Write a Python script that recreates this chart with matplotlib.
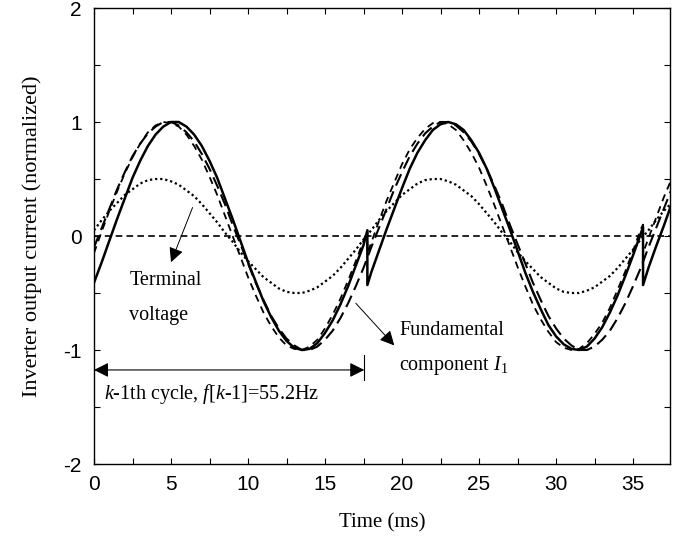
import matplotlib
matplotlib.use('Agg')
import matplotlib.pyplot as plt
from matplotlib.ticker import MultipleLocator

plt.rcParams['mathtext.fontset'] = 'custom'
plt.rcParams['mathtext.rm'] = 'Liberation Serif'
plt.rcParams['mathtext.it'] = 'Liberation Serif:italic'
plt.rcParams['axes.unicode_minus'] = False

# ---- data (time in ms, values normalized) ----
grid_t = [0, 0.5, 1, 1.5, 2, 2.5, 3, 3.5, 4, 4.5, 5, 5.5, 6, 6.5, 7, 7.5, 8, 8.5,
          9, 9.5, 10, 10.5, 11, 11.5, 12, 12.5, 13, 13.5, 14, 14.5, 15, 15.5, 16, 16.5, 17, 17.5,
          18, 18.5, 19, 19.5, 20, 20.5, 21, 21.5, 22, 22.5, 23, 23.5, 24, 24.5, 25, 25.5, 26, 26.5,
          27, 27.5, 28, 28.5, 29, 29.5, 30, 30.5, 31, 31.5, 32, 32.5, 33, 33.5, 34, 34.5, 35, 35.5,
          36, 36.5, 37, 37.5]

# terminal voltage (dotted)
volt_v = [0.05, 0.14, 0.22, 0.29, 0.36, 0.41, 0.46, 0.49, 0.50, 0.50, 0.48, 0.45, 0.40, 0.35,
          0.28, 0.20, 0.12, 0.03, -0.05, -0.14, -0.22, -0.29, -0.36, -0.41, -0.46, -0.49, -0.50,
          -0.50, -0.48, -0.45, -0.40, -0.35, -0.28, -0.20, -0.12, -0.03,
          0.05, 0.14, 0.22, 0.29, 0.36, 0.41, 0.46, 0.49, 0.50, 0.50, 0.48, 0.45, 0.40, 0.35,
          0.28, 0.20, 0.12, 0.03, -0.05, -0.14, -0.22, -0.29, -0.36, -0.41, -0.46, -0.49, -0.50,
          -0.50, -0.48, -0.45, -0.40, -0.35, -0.28, -0.20, -0.12, -0.03,
          0.05, 0.14, 0.22, 0.29]

# fundamental component I1 (long dashed, smooth)
fund_v = [-0.10, 0.07, 0.24, 0.41, 0.56, 0.70, 0.81, 0.90, 0.96, 1.00, 1.00, 0.97, 0.91, 0.83,
          0.72, 0.59, 0.44, 0.28, 0.10, -0.07, -0.24, -0.41, -0.56, -0.70, -0.81, -0.90, -0.96,
          -1.00, -1.00, -0.97, -0.91, -0.83, -0.72, -0.59, -0.44, -0.28,
          -0.10, 0.07, 0.24, 0.41, 0.56, 0.70, 0.81, 0.90, 0.96, 1.00, 1.00, 0.97, 0.91, 0.83,
          0.72, 0.59, 0.44, 0.28, 0.10, -0.07, -0.24, -0.41, -0.56, -0.70, -0.81, -0.90, -0.96,
          -1.00, -1.00, -0.97, -0.91, -0.83, -0.72, -0.59, -0.44, -0.28,
          -0.10, 0.07, 0.24, 0.41]

# time base for curves restarting at every cycle (step at each cycle start)
step_t = [0, 0.5, 1, 1.5, 2, 2.5, 3, 3.5, 4, 4.5, 5, 5.5, 6, 6.5, 7, 7.5, 8, 8.5,
          9, 9.5, 10, 10.5, 11, 11.5, 12, 12.5, 13, 13.5, 14, 14.5, 15, 15.5, 16, 16.5, 17, 17.5,
          17.75, 17.75,
          18, 18.5, 19, 19.5, 20, 20.5, 21, 21.5, 22, 22.5, 23, 23.5, 24, 24.5, 25, 25.5, 26, 26.5,
          27, 27.5, 28, 28.5, 29, 29.5, 30, 30.5, 31, 31.5, 32, 32.5, 33, 33.5, 34, 34.5, 35, 35.5,
          35.65, 35.65,
          36, 36.5, 37, 37.5]

# reference current (dashed, small step at each cycle start)
ref_v = [-0.15, 0.04, 0.22, 0.39, 0.55, 0.69, 0.81, 0.91, 0.97, 1.00, 0.99, 0.96, 0.89, 0.79,
         0.67, 0.52, 0.36, 0.18, 0.00, -0.18, -0.36, -0.52, -0.67, -0.79, -0.89, -0.96, -0.99,
         -1.00, -0.97, -0.91, -0.81, -0.69, -0.55, -0.39, -0.22, -0.04,
         0.05, -0.15,
         -0.06, 0.13, 0.31, 0.47, 0.63, 0.76, 0.86, 0.94, 0.99, 1.00, 0.98, 0.93, 0.84, 0.73,
         0.60, 0.44, 0.27, 0.09, -0.09, -0.27, -0.44, -0.60, -0.73, -0.84, -0.93, -0.98, -1.00,
         -0.99, -0.94, -0.86, -0.76, -0.63, -0.47, -0.31, -0.13, 0.06,
         0.10, -0.15,
         -0.02, 0.16, 0.34, 0.50]

# inverter output current (solid)
cur_v = [-0.41, -0.23, -0.04, 0.15, 0.33, 0.51, 0.66, 0.79, 0.89, 0.96, 1.00, 1.00, 0.96, 0.89,
         0.79, 0.66, 0.51, 0.33, 0.15, -0.04, -0.23, -0.40, -0.57, -0.71, -0.83, -0.92, -0.98,
         -1.00, -0.99, -0.94, -0.85, -0.74, -0.60, -0.44, -0.26, -0.08,
         0.05, -0.43,
         -0.32, -0.13, 0.06, 0.24, 0.42, 0.59, 0.73, 0.84, 0.93, 0.98, 1.00, 0.98, 0.93, 0.84,
         0.73, 0.59, 0.42, 0.24, 0.06, -0.13, -0.32, -0.49, -0.64, -0.78, -0.88, -0.95, -0.99,
         -1.00, -0.97, -0.90, -0.80, -0.67, -0.52, -0.35, -0.17, 0.02,
         0.08, -0.43,
         -0.28, -0.09, 0.09, 0.28]

zero_level = 0.0
x_ticks = [0, 5, 10, 15, 20, 25, 30, 35]
y_ticks = [-2, -1, 0, 1, 2]
cycle_end = 17.55

# ---- figure ----
fig = plt.figure(figsize=(6.78, 5.40), dpi=100)
ax = fig.add_axes([94 / 678, 1 - 464 / 540, (670 - 94) / 678, (464 - 8) / 540])

ax.plot(grid_t, volt_v, color='black', lw=1.6, linestyle=(0, (1, 1.3)))
ax.plot(grid_t, fund_v, color='black', lw=1.5, linestyle=(0, (6, 3)))
ax.plot(step_t, ref_v, color='black', lw=1.3, linestyle=(0, (4, 3)))
ax.plot(step_t, cur_v, color='black', lw=1.8, linestyle='-')
ax.axhline(zero_level, color='black', lw=1.2, linestyle=(0, (4, 2.5)))

ax.set_xlim(0, 37.4)
ax.set_ylim(-2, 2)
ax.set_xticks(x_ticks)
ax.set_yticks(y_ticks)
ax.yaxis.set_minor_locator(MultipleLocator(0.5))
ax.xaxis.set_minor_locator(MultipleLocator(2.5))
ax.tick_params(which='both', direction='in', top=True, right=True, length=4, width=0.8)
ax.tick_params(axis='y', pad=9)
ax.tick_params(axis='x', pad=8)
for lab in ax.get_xticklabels() + ax.get_yticklabels():
    lab.set_fontfamily('Liberation Sans')
    lab.set_fontsize(15)
for sp in ax.spines.values():
    sp.set_linewidth(1.0)

ax.set_xlabel('Time (ms)', fontfamily='Liberation Serif', fontsize=15, labelpad=14)
ax.set_ylabel('Inverter output current (normalized)', fontfamily='Liberation Serif',
              fontsize=16, labelpad=15)

serif = dict(fontfamily='Liberation Serif', fontsize=14.5, va='center', ha='left')
ax.text(2.3, -0.39, 'Terminal', **serif)
ax.text(2.3, -0.70, 'voltage', **serif)
ax.annotate('', xy=(5.0, -0.23), xytext=(6.4, 0.25),
            arrowprops=dict(arrowstyle='-|>', mutation_scale=22, lw=0.7, color='black',
                            shrinkA=0, shrinkB=0))

ax.text(19.8, -0.83, 'Fundamental', **serif)
ax.text(19.8, -1.14, r'component $\mathit{I}_{\mathit{1}}$', **serif)
ax.annotate('', xy=(19.5, -0.96), xytext=(17.0, -0.59),
            arrowprops=dict(arrowstyle='-|>', mutation_scale=22, lw=0.7, color='black',
                            shrinkA=0, shrinkB=0))

ax.annotate('', xy=(0.0, -1.175), xytext=(cycle_end, -1.175),
            arrowprops=dict(arrowstyle='<|-|>', mutation_scale=22, lw=0.8, color='black',
                            shrinkA=0, shrinkB=0))
ax.plot([cycle_end, cycle_end], [-1.04, -1.26], color='black', lw=0.8)
ax.text(0.65, -1.39, r'$\mathit{k}$-$\mathit{1}$th cycle, $\mathit{f[k}$-$\mathit{1]}$=55.2Hz',
        **serif)

fig.savefig('out.png', dpi=100)
